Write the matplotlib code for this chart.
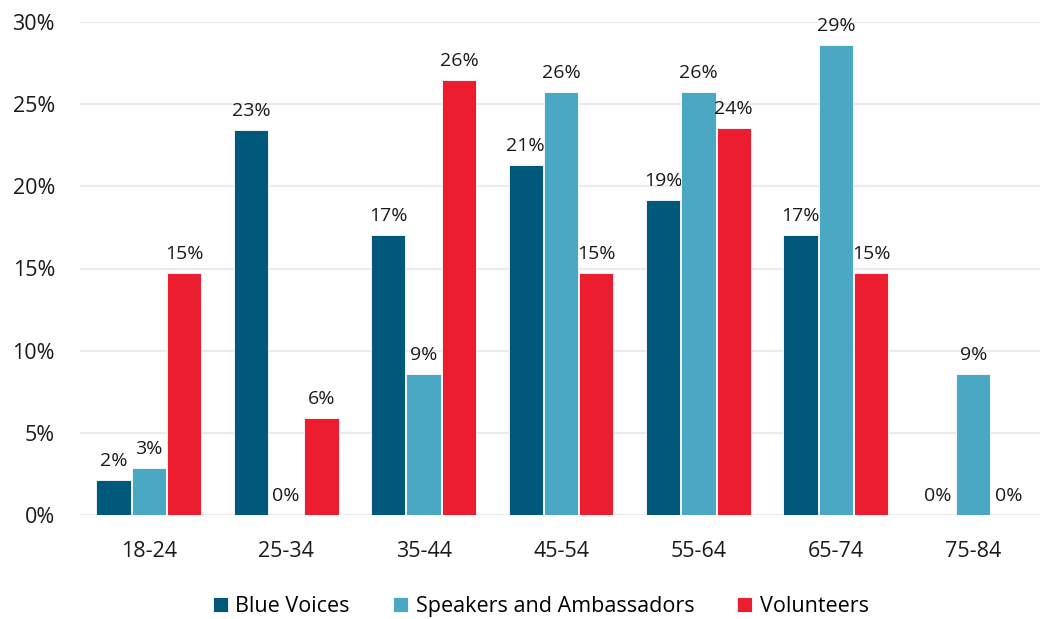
import matplotlib
matplotlib.use("Agg")
import matplotlib.pyplot as plt
import numpy as np
from matplotlib.ticker import PercentFormatter

plt.rcParams['font.family'] = ['Open Sans', 'DejaVu Sans']

# age bands and share of each group (percent)
age_groups = ["18-24", "25-34", "35-44", "45-54", "55-64", "65-74", "75-84"]
blue_voices = [2.13, 23.40, 17.02, 21.28, 19.15, 17.02, 0.0]
speakers = [2.86, 0.0, 8.57, 25.71, 25.71, 28.57, 8.57]
volunteers = [14.71, 5.88, 26.47, 14.71, 23.53, 14.71, 0.0]

series = [
    ("Blue Voices", blue_voices, "#00587A"),
    ("Speakers and Ambassadors", speakers, "#4BA8C5"),
    ("Volunteers", volunteers, "#EC1D2F"),
]

fig = plt.figure(figsize=(10.4, 6.19), dpi=100)
ax = fig.add_axes([80 / 1040, 104 / 619, 962 / 1040, 493 / 619])

x = np.arange(len(age_groups))
step = 0.257
width = 0.25

for i, (name, vals, col) in enumerate(series):
    pos = x + (i - 1) * step
    ax.bar(pos, vals, width=width, color=col, edgecolor="white",
           linewidth=0.6, label=name, zorder=3)
    for xp, v in zip(pos, vals):
        ax.annotate(f"{v:.0f}%", (xp, v), xytext=(0, 7.5), textcoords="offset points",
                    ha="center", va="bottom", fontsize=14, color="#1a1a1a")

ax.set_xlim(-0.5, len(age_groups) - 0.5)
ax.set_ylim(0, 30)
ax.set_yticks(np.arange(0, 31, 5))
ax.yaxis.set_major_formatter(PercentFormatter(decimals=0))
ax.set_xticks(x)
ax.set_xticklabels(age_groups)
ax.tick_params(axis="both", length=0, labelsize=15.5, colors="#1a1a1a")
ax.tick_params(axis="y", pad=18)
ax.tick_params(axis="x", pad=19)
ax.grid(axis="y", color="#EBEBEB", linewidth=1.5, zorder=0)
for s in ax.spines.values():
    s.set_visible(False)

fig.legend(loc="lower center", bbox_to_anchor=(0.52, -0.028), ncol=3, frameon=False,
           fontsize=15.5, handlelength=0.7, handleheight=0.7, handletextpad=0.35,
           columnspacing=2.0)

fig.savefig("out.png", dpi=100)
